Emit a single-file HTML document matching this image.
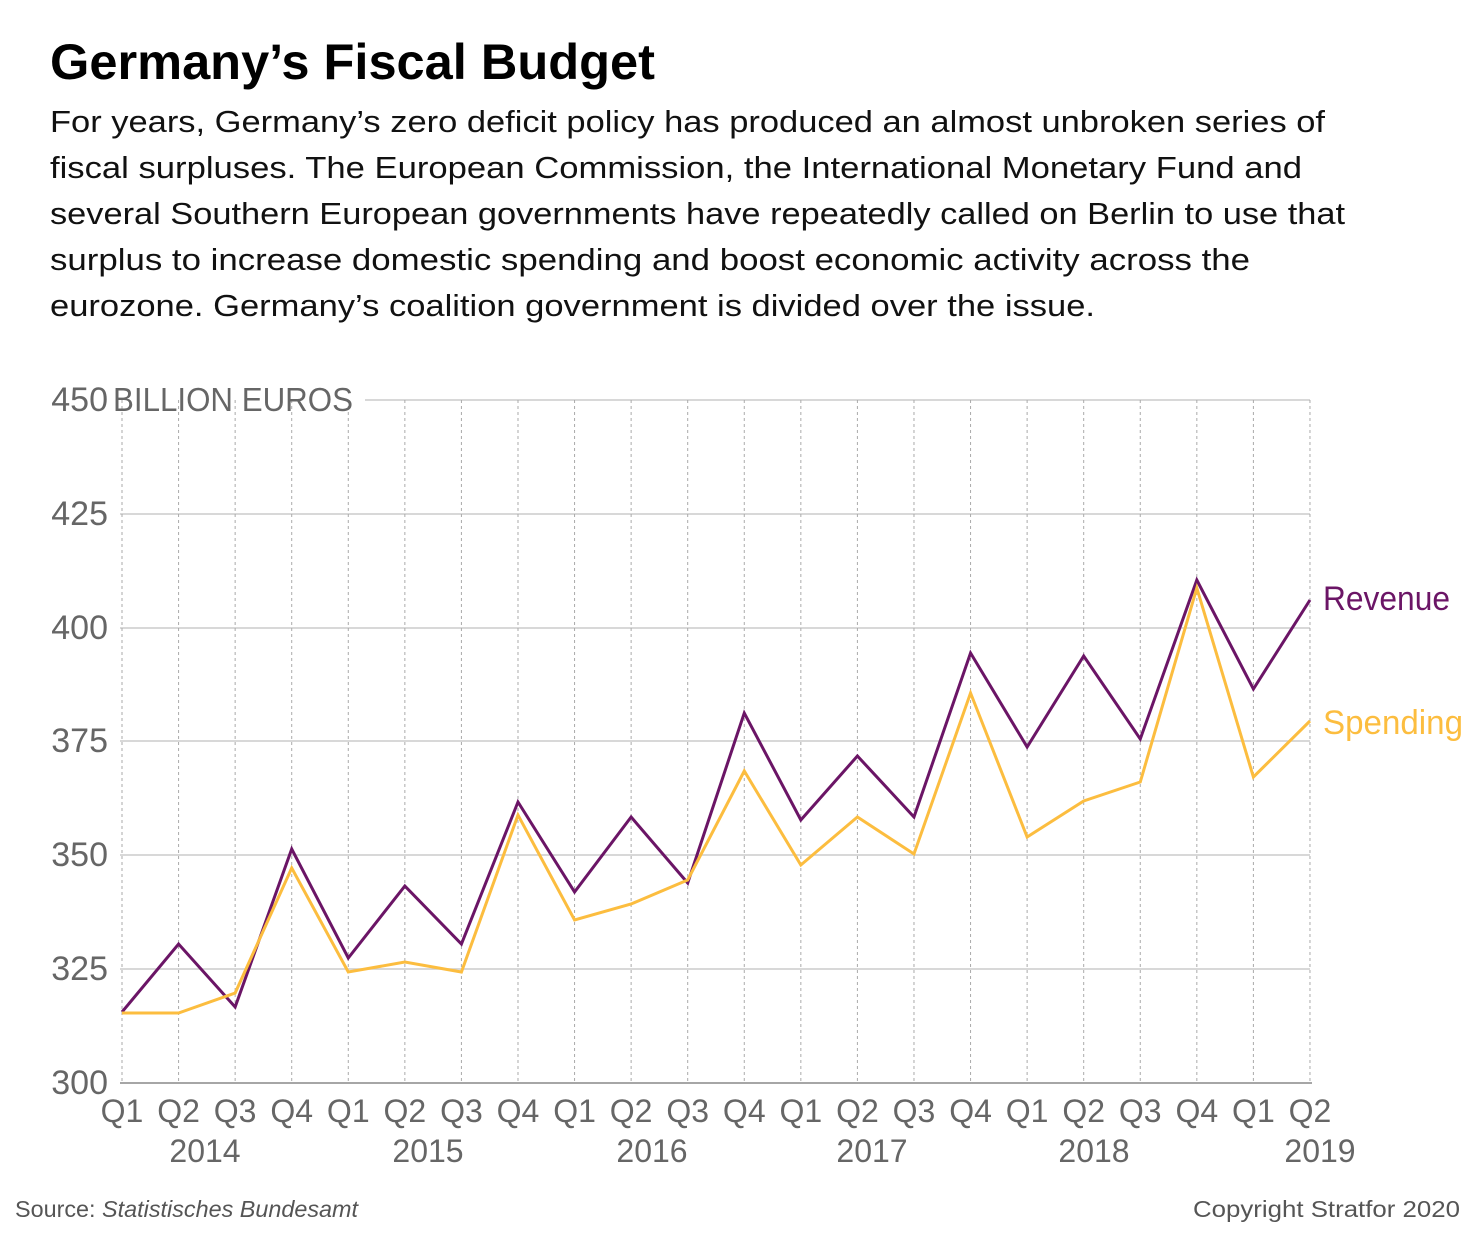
<!DOCTYPE html>
<html><head><meta charset="utf-8"><style>
body{margin:0;background:#fff;width:1480px;height:1246px;overflow:hidden;font-family:"Liberation Sans",sans-serif;}
</style></head><body>
<svg width="1480" height="1246" style="position:absolute;left:0;top:0" font-family="Liberation Sans, sans-serif">
<text x="50" y="79" font-size="50" font-weight="bold" fill="#000" textLength="605" lengthAdjust="spacingAndGlyphs">Germany’s Fiscal Budget</text>
<g font-size="31" fill="#111" lengthAdjust="spacingAndGlyphs">
<text x="50" y="132" textLength="1275" lengthAdjust="spacingAndGlyphs">For years, Germany’s zero deficit policy has produced an almost unbroken series of</text>
<text x="50" y="178" textLength="1252" lengthAdjust="spacingAndGlyphs">fiscal surpluses. The European Commission, the International Monetary Fund and</text>
<text x="50" y="224" textLength="1295" lengthAdjust="spacingAndGlyphs">several Southern European governments have repeatedly called on Berlin to use that</text>
<text x="50" y="270" textLength="1200" lengthAdjust="spacingAndGlyphs">surplus to increase domestic spending and boost economic activity across the</text>
<text x="50" y="316" textLength="1045" lengthAdjust="spacingAndGlyphs">eurozone. Germany’s coalition government is divided over the issue.</text>
</g>
<g stroke="#ccc" stroke-width="1.5">
<line x1="365" y1="400" x2="1310" y2="400"/>
<line x1="120" y1="514" x2="1310" y2="514"/>
<line x1="120" y1="628" x2="1310" y2="628"/>
<line x1="120" y1="741" x2="1310" y2="741"/>
<line x1="120" y1="855" x2="1310" y2="855"/>
<line x1="120" y1="969" x2="1310" y2="969"/>
</g>
<g stroke="#aaa" stroke-width="1" stroke-dasharray="3,3" id="v"></g>
<line x1="120" y1="1083" x2="1312" y2="1083" stroke="#888" stroke-width="1.5"/>
<g fill="#666" font-size="34" text-anchor="end">
<text x="108" y="411">450</text><text x="108" y="525">425</text><text x="108" y="639">400</text>
<text x="108" y="752">375</text><text x="108" y="866">350</text><text x="108" y="980">325</text><text x="108" y="1094">300</text>
</g>
<text x="113" y="411" fill="#666" font-size="33" textLength="240" lengthAdjust="spacingAndGlyphs">BILLION EUROS</text>
<g id="xl" fill="#666" font-size="32" text-anchor="middle"></g>
<g fill="#666" font-size="32" text-anchor="middle">
<text x="205" y="1162">2014</text><text x="428" y="1162">2015</text><text x="652" y="1162">2016</text>
<text x="872" y="1162">2017</text><text x="1094" y="1162">2018</text><text x="1320" y="1162">2019</text>
</g>
<polyline id="rev" fill="none" stroke="#6b1566" stroke-width="3"/>
<polyline id="sp" fill="none" stroke="#fcbd3f" stroke-width="3"/>
<text x="1323" y="610" fill="#6b1566" font-size="34" textLength="127" lengthAdjust="spacingAndGlyphs">Revenue</text>
<text x="1323" y="734" fill="#fcbd3f" font-size="34" textLength="140" lengthAdjust="spacingAndGlyphs">Spending</text>
<text x="15" y="1217" fill="#555" font-size="23" textLength="343" lengthAdjust="spacingAndGlyphs">Source: <tspan font-style="italic">Statistisches Bundesamt</tspan></text>
<text x="1193" y="1217" fill="#555" font-size="23" textLength="267" lengthAdjust="spacingAndGlyphs">Copyright Stratfor 2020</text>
</svg>
<script>
var r=[1012,944,1007,849,958,886,944,802,892,817,883,713,820,756,817,653,747,656,739,580,689,600];
var s=[1013,1013,993,868,972,962,972,815,920,904,880,771,865,817,854,693,837,801,782,588,777,721];
var x=i=>122+i*56.57,ns="http://www.w3.org/2000/svg";
document.getElementById('rev').setAttribute('points',r.map((y,i)=>x(i)+','+y).join(' '));
document.getElementById('sp').setAttribute('points',s.map((y,i)=>x(i)+','+y).join(' '));
var v=document.getElementById('v'),xl=document.getElementById('xl');
for(var i=0;i<22;i++){var l=document.createElementNS(ns,'line');l.setAttribute('x1',x(i));l.setAttribute('x2',x(i));l.setAttribute('y1',400);l.setAttribute('y2',1083);v.appendChild(l);
var t=document.createElementNS(ns,'text');t.setAttribute('x',x(i));t.setAttribute('y',1122);t.textContent='Q'+(i%4+1);xl.appendChild(t);}
</script>
</body></html>
